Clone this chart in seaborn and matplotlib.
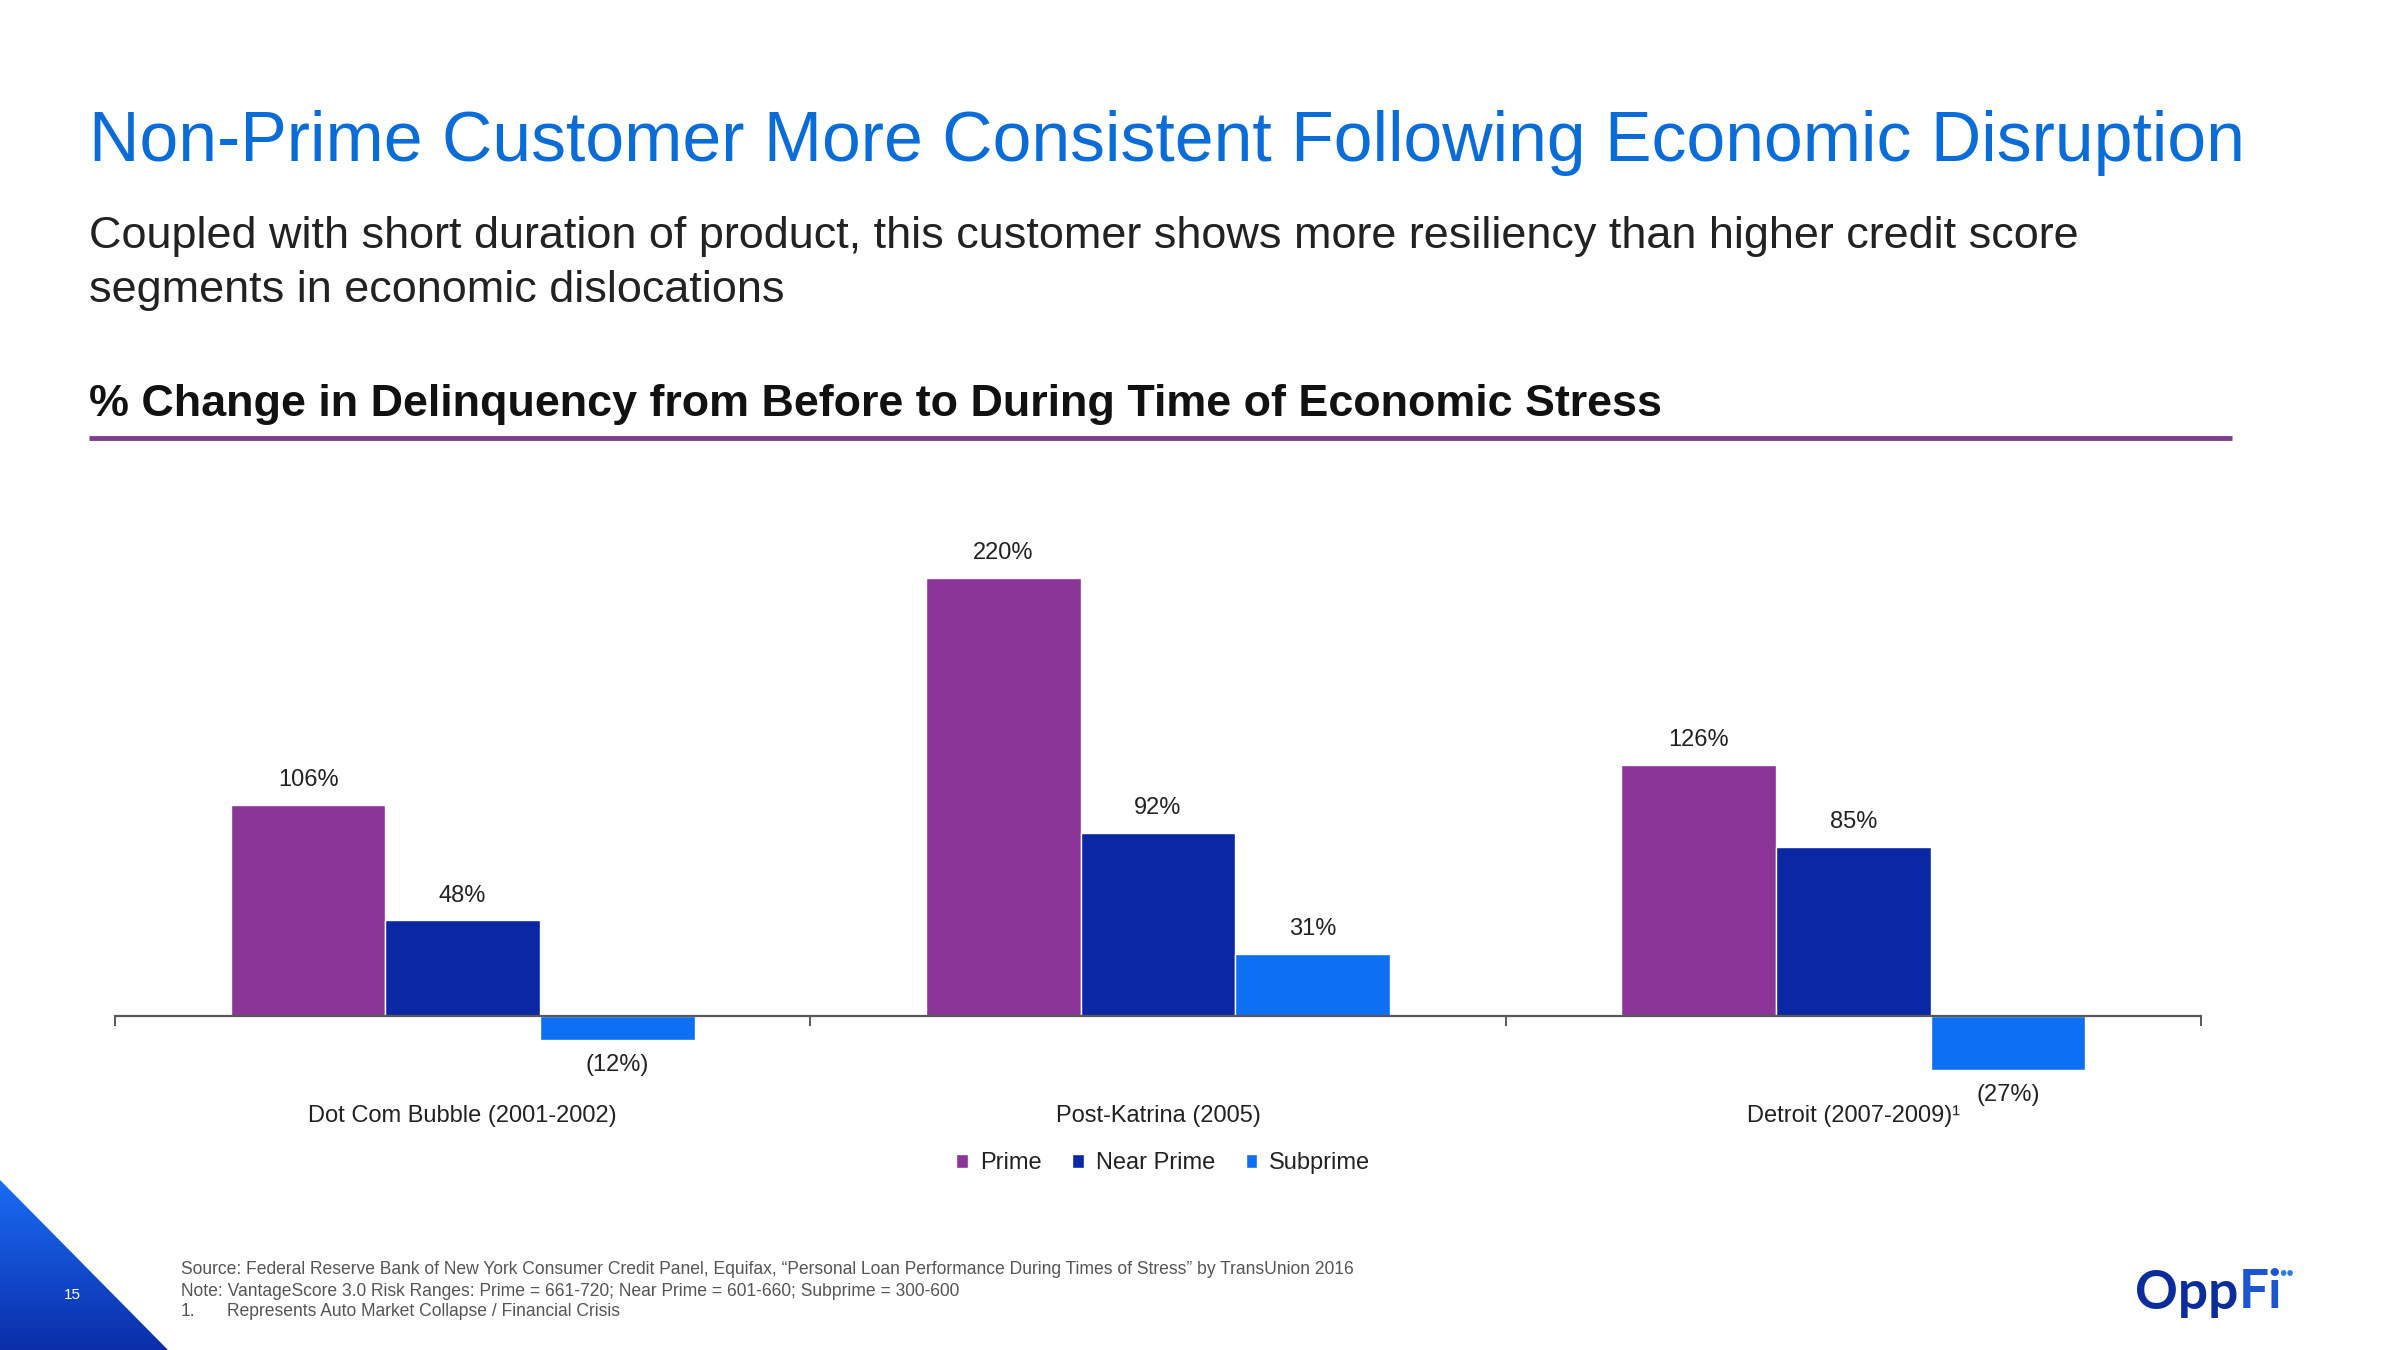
import numpy as np
import pandas as pd
import matplotlib
matplotlib.use("Agg")
import matplotlib.pyplot as plt
import seaborn as sns
from matplotlib.patches import Polygon
from matplotlib.lines import Line2D
from matplotlib.colors import LinearSegmentedColormap

# ---------------- data ----------------
events = ["Dot Com Bubble (2001-2002)", "Post-Katrina (2005)", "Detroit (2007-2009)\u00b9"]
segments = ["Prime", "Near Prime", "Subprime"]
prime = [106, 220, 126]
near_prime = [48, 92, 85]
subprime = [-12, 31, -27]
colors = ["#8a3597", "#0b27a3", "#0d6ff2"]

title = "Non-Prime Customer More Consistent Following Economic Disruption"
subtitle1 = "Coupled with short duration of product, this customer shows more resiliency than higher credit score"
subtitle2 = "segments in economic dislocations"
header = "% Change in Delinquency from Before to During Time of Economic Stress"
notes = [
    "Source: Federal Reserve Bank of New York Consumer Credit Panel, Equifax, \u201cPersonal Loan Performance During Times of Stress\u201d by TransUnion 2016",
    "Note: VantageScore 3.0 Risk Ranges: Prime = 661-720; Near Prime = 601-660; Subprime = 300-600",
]
note3_num = "1."
note3 = "Represents Auto Market Collapse / Financial Crisis"

df = pd.DataFrame({
    "event": events * 3,
    "segment": np.repeat(segments, len(events)),
    "value": prime + near_prime + subprime,
})

sns.set_theme(style="white")
plt.rcParams["font.family"] = ["Liberation Sans", "DejaVu Sans"]

W, H = 2400, 1350
fig = plt.figure(figsize=(24, 13.5), dpi=100)
fig.patch.set_facecolor("white")

bg = fig.add_axes([0, 0, 1, 1])
bg.set_xlim(0, W)
bg.set_ylim(H, 0)
bg.axis("off")

renderer = fig.canvas.get_renderer()


def fit(t, target_w):
    bb = t.get_window_extent(renderer)
    t.set_fontsize(t.get_fontsize() * target_w / bb.width)
    return t.get_fontsize()


# title & texts
t = bg.text(89, 161, title, color="#0a6cd6", fontsize=48, va="baseline", ha="left")
fit(t, 2155)
s1 = bg.text(89, 248, subtitle1, color="#222222", fontsize=30, va="baseline", ha="left")
fs = fit(s1, 1988)
bg.text(89, 302, subtitle2, color="#222222", fontsize=fs, va="baseline", ha="left")
hd = bg.text(89, 416, header, color="#111111", fontsize=28, fontweight="bold", va="baseline", ha="left")
fit(hd, 1575)
bg.add_line(Line2D([89, 2232], [438, 438], color="#7b3f8c", lw=3.5, solid_capstyle="butt"))

# footnotes
n1 = bg.text(181, 1270, notes[0], color="#555555", fontsize=11, va="center", ha="left")
fn = fit(n1, 1177)
bg.text(181, 1291, notes[1], color="#555555", fontsize=fn, va="center", ha="left")
bg.text(181, 1312, note3_num, color="#555555", fontsize=fn, va="center", ha="left")
bg.text(227, 1312, note3, color="#555555", fontsize=fn, va="center", ha="left")

# blue triangle with gradient
tri = Polygon([[0, 1180], [168, 1350], [0, 1350]], closed=True, facecolor="none", edgecolor="none")
bg.add_patch(tri)
cmap = LinearSegmentedColormap.from_list("tri", ["#1a6cf5", "#0a2ea8"])
grad = np.linspace(0, 1, 256).reshape(-1, 1)
im = bg.imshow(grad, extent=[0, 170, 1350, 1180], cmap=cmap, aspect="auto", origin="upper", zorder=1)
im.set_clip_path(tri)
bg.set_xlim(0, W)
bg.set_ylim(H, 0)
bg.text(72, 1295, "15", color="white", fontsize=11, ha="center", va="center", zorder=2)

# logo
lg1 = bg.text(2135, 1293, "Opp", color="#0b2d9c", fontsize=34, fontweight="bold",
              family=["Lato", "Liberation Sans"], ha="left", va="center")
lg1_fs = fit(lg1, 103)
bb = lg1.get_window_extent(renderer)
x_fi = bb.x1
bg.text(x_fi, 1293, "Fi", color="#1b55cf", fontsize=lg1_fs, fontweight="bold",
        family=["Lato", "Liberation Sans"], ha="left", va="center")
bg.text(2279, 1274, "\u2022\u2022", color="#2a7de1", fontsize=15, ha="left", va="center")

# ---------------- chart ----------------
ax = fig.add_axes([115 / W, 1 - 1115.5 / H, 2086 / W, 597 / H])
sns.barplot(data=df, x="event", y="value", hue="segment", hue_order=segments,
            order=events, palette=colors, width=0.667, saturation=1,
            errorbar=None, ax=ax)
handles, labels = ax.get_legend_handles_labels()
if ax.get_legend() is not None:
    ax.get_legend().remove()

for c in ax.containers:
    labs = [f"{v:.0f}%" if v >= 0 else f"({abs(v):.0f}%)" for v in c.datavalues]
    ax.bar_label(c, labels=labs, padding=10, fontsize=17, color="#222222")

ax.set_xlim(-0.5, 2.5)
ax.set_ylim(-50, 250)
ax.set_yticks([])
ax.set_xlabel("")
ax.set_ylabel("")
for sp in ["top", "left", "right"]:
    ax.spines[sp].set_visible(False)
ax.spines["bottom"].set_position(("data", 0))
ax.spines["bottom"].set_color("#595959")
ax.spines["bottom"].set_linewidth(1.6)
ax.set_xticks([-0.5, 0.5, 1.5, 2.5])
ax.set_xticklabels([])
ax.set_xticks([0, 1, 2], labels=events, minor=True)
ax.tick_params(axis="x", which="major", bottom=True, direction="out", length=7,
               width=1.4, color="#595959")
ax.tick_params(axis="x", which="minor", bottom=True, length=0, pad=64,
               labelsize=17, labelcolor="#222222")
ax.patch.set_alpha(0)

fig.legend(handles, segments, loc="center",
           bbox_to_anchor=(760 * 1.5306 / W, 1 - 760 * 1.5306 / H),
           ncol=3, frameon=False, fontsize=17, handlelength=0.5, handleheight=0.5,
           handletextpad=0.5, columnspacing=1.3, labelcolor="#222222")

fig.savefig("out.png", dpi=100, facecolor="white")
